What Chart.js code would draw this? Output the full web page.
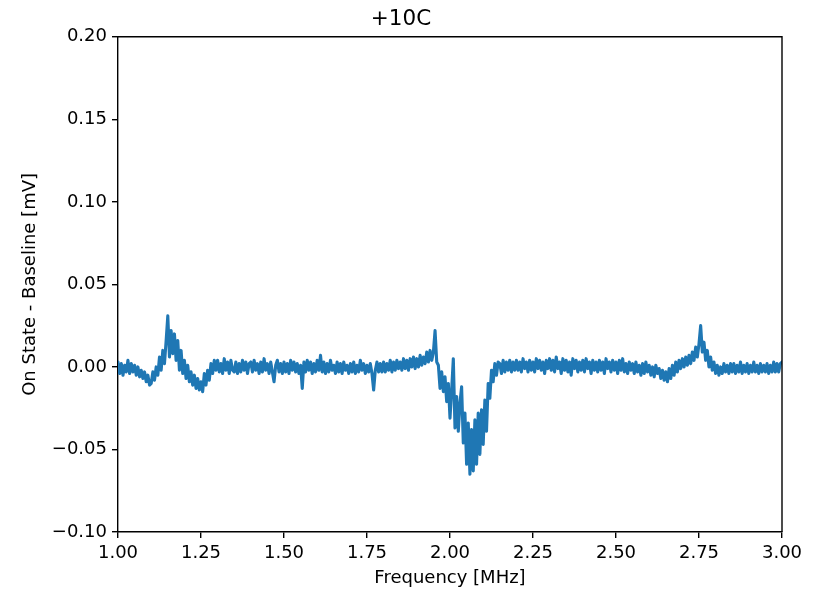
<!DOCTYPE html>
<html>
<head>
<meta charset="utf-8">
<script src="https://cdn.jsdelivr.net/npm/chart.js@4.4.1/dist/chart.umd.min.js"></script>
<style>
  html, body { margin: 0; padding: 0; background: #ffffff; }
  #wrap { width: 825px; height: 593px; position: relative; }
</style>
</head>
<body>
<div id="wrap"><canvas id="c" width="825" height="593"></canvas></div>
<script>
const chartTitle = "+10C";
const xAxisLabel = "Frequency [MHz]";
const yAxisLabel = "On State - Baseline [mV]";
const xTicks = [1.00, 1.25, 1.50, 1.75, 2.00, 2.25, 2.50, 2.75, 3.00];
const yTicks = [-0.10, -0.05, 0.00, 0.05, 0.10, 0.15, 0.20];

const frequencyMHz = [
1.000,1.005,1.010,1.015,1.020,1.025,1.030,1.035,1.040,1.045,
1.050,1.055,1.060,1.065,1.070,1.075,1.080,1.085,1.090,1.095,
1.100,1.105,1.110,1.115,1.120,1.125,1.130,1.135,1.140,1.145,
1.150,1.155,1.160,1.165,1.170,1.175,1.180,1.185,1.190,1.195,
1.200,1.205,1.210,1.215,1.220,1.225,1.230,1.235,1.240,1.245,
1.250,1.255,1.260,1.265,1.270,1.275,1.280,1.285,1.290,1.295,
1.300,1.305,1.310,1.315,1.320,1.325,1.330,1.335,1.340,1.345,
1.350,1.355,1.360,1.365,1.370,1.375,1.380,1.385,1.390,1.395,
1.400,1.405,1.410,1.415,1.420,1.425,1.430,1.435,1.440,1.445,
1.450,1.455,1.460,1.465,1.470,1.475,1.480,1.485,1.490,1.495,
1.500,1.505,1.510,1.515,1.520,1.525,1.530,1.535,1.540,1.545,
1.550,1.555,1.560,1.565,1.570,1.575,1.580,1.585,1.590,1.595,
1.600,1.605,1.610,1.615,1.620,1.625,1.630,1.635,1.640,1.645,
1.650,1.655,1.660,1.665,1.670,1.675,1.680,1.685,1.690,1.695,
1.700,1.705,1.710,1.715,1.720,1.725,1.730,1.735,1.740,1.745,
1.750,1.755,1.760,1.765,1.770,1.775,1.780,1.785,1.790,1.795,
1.800,1.805,1.810,1.815,1.820,1.825,1.830,1.835,1.840,1.845,
1.850,1.855,1.860,1.865,1.870,1.875,1.880,1.885,1.890,1.895,
1.900,1.905,1.910,1.915,1.920,1.925,1.930,1.935,1.940,1.945,
1.950,1.955,1.960,1.965,1.970,1.975,1.980,1.985,1.990,1.995,
2.000,2.005,2.010,2.015,2.020,2.025,2.030,2.035,2.040,2.045,
2.050,2.055,2.060,2.065,2.070,2.075,2.080,2.085,2.090,2.095,
2.100,2.105,2.110,2.115,2.120,2.125,2.130,2.135,2.140,2.145,
2.150,2.155,2.160,2.165,2.170,2.175,2.180,2.185,2.190,2.195,
2.200,2.205,2.210,2.215,2.220,2.225,2.230,2.235,2.240,2.245,
2.250,2.255,2.260,2.265,2.270,2.275,2.280,2.285,2.290,2.295,
2.300,2.305,2.310,2.315,2.320,2.325,2.330,2.335,2.340,2.345,
2.350,2.355,2.360,2.365,2.370,2.375,2.380,2.385,2.390,2.395,
2.400,2.405,2.410,2.415,2.420,2.425,2.430,2.435,2.440,2.445,
2.450,2.455,2.460,2.465,2.470,2.475,2.480,2.485,2.490,2.495,
2.500,2.505,2.510,2.515,2.520,2.525,2.530,2.535,2.540,2.545,
2.550,2.555,2.560,2.565,2.570,2.575,2.580,2.585,2.590,2.595,
2.600,2.605,2.610,2.615,2.620,2.625,2.630,2.635,2.640,2.645,
2.650,2.655,2.660,2.665,2.670,2.675,2.680,2.685,2.690,2.695,
2.700,2.705,2.710,2.715,2.720,2.725,2.730,2.735,2.740,2.745,
2.750,2.755,2.760,2.765,2.770,2.775,2.780,2.785,2.790,2.795,
2.800,2.805,2.810,2.815,2.820,2.825,2.830,2.835,2.840,2.845,
2.850,2.855,2.860,2.865,2.870,2.875,2.880,2.885,2.890,2.895,
2.900,2.905,2.910,2.915,2.920,2.925,2.930,2.935,2.940,2.945,
2.950,2.955,2.960,2.965,2.970,2.975,2.980,2.985,2.990,2.995,
3.000
];

const signalMV = [
 .003,-.004, .002,-.005, .001,-.003, .004,-.004, .002,-.003,
 .001,-.005, .000,-.006,-.002,-.007,-.003,-.009,-.005,-.011,
-.010,-.003,-.008, .000,-.005, .006,-.002, .010, .002, .016,
 .031, .006, .022, .008, .020, .004, .016,-.002, .010,-.004,
 .004,-.007, .001,-.009,-.003,-.011,-.005,-.013,-.007,-.014,
-.009,-.015,-.004,-.011,-.002,-.008, .002,-.004, .004,-.002,
 .004,-.003, .002,-.004, .005,-.002, .003,-.004, .004,-.002,
-.003, .003,-.004, .002,-.003, .004,-.002, .003,-.004, .002,
 .003,-.003, .004,-.002, .002,-.004, .003,-.003, .005,-.002,
 .002,-.004, .003,-.003,-.009, .001, .004,-.003, .002,-.004,
 .003,-.003, .002,-.004, .004,-.002, .003,-.003, .002,-.004,
 .001,-.013, .003,-.003, .004,-.002, .003,-.004, .002,-.003,
 .004,-.002, .007,-.003, .003,-.004, .002,-.003, .004,-.002,
 .001,-.004, .003,-.003, .002,-.004, .003,-.002, .001,-.004,
 .002,-.003, .003,-.004, .001,-.003, .004,-.002, .002,-.004,
 .001,-.003, .002,-.004,-.014,-.002, .003,-.003, .002,-.003,
 .003,-.003, .002,-.002, .004,-.003, .003,-.002, .004,-.001,
 .003,-.002, .005,-.001, .004,-.002, .005, .000, .006,-.001,
 .005, .000, .007, .001, .006, .002, .009, .003, .010, .004,
 .009, .022, .003, .001,-.013,-.003,-.015,-.006,-.021,-.010,
-.031,-.014, .005,-.037,-.018,-.039,-.022,-.012,-.046,-.028,
-.059,-.034,-.065,-.038,-.063,-.032,-.059,-.028,-.053,-.026,
-.047,-.020,-.039,-.010,-.019,-.002,-.009, .002,-.005, .003,
 .002,-.004, .004,-.003, .003,-.002, .004,-.003, .003,-.002,
 .004,-.002, .003,-.003, .005,-.001, .003,-.003, .004,-.002,
 .003,-.003, .005,-.001, .004,-.002, .003,-.004, .004,-.001,
 .005,-.002, .004,-.003, .006,-.001, .003,-.004, .005,-.002,
 .004,-.003, .003,-.005, .005,-.001, .004,-.003, .003,-.002,
 .004,-.003, .005,-.001, .003,-.004, .004,-.002, .003,-.003,
 .004,-.002, .003,-.004, .005,-.001, .003,-.003, .004,-.002,
 .003,-.004, .004,-.002, .005,-.003, .002,-.004, .003,-.002,
 .002,-.004, .003,-.003, .001,-.005, .002,-.004, .003,-.003,
 .001,-.005, .000,-.006, .001,-.004,-.001,-.007,-.002,-.008,
-.003,-.009,-.001,-.007, .001,-.005, .003,-.003, .004,-.001,
 .005, .000, .006, .001, .007, .002, .009, .004, .012, .006,
 .014, .025, .009, .015, .004, .010, .000, .006,-.002, .003,
-.004, .001,-.005, .000,-.004, .002,-.003, .001,-.004, .002,
-.003, .002,-.004, .001,-.003, .003,-.004, .001,-.003, .002,
-.004, .001,-.003, .003,-.003, .001,-.004, .002,-.003, .001,
-.003, .002,-.004, .001,-.003, .003,-.003, .002,-.003, .002,
 .003
];

const lineColor = '#1f77b4';
const fontFamily = "'DejaVu Sans', sans-serif";

function fmt(v) {
  if (Math.abs(v) < 1e-9) v = 0;
  return v.toFixed(2).replace('-', '\u2212');
}

const frameBox = {
  id: 'frameBox',
  afterDatasetsDraw(chart) {
    const a = chart.chartArea, ctx = chart.ctx;
    ctx.save();
    ctx.strokeStyle = '#000';
    ctx.lineWidth = 1.4;
    ctx.beginPath();
    ctx.moveTo(a.left, a.top); ctx.lineTo(a.right, a.top); ctx.lineTo(a.right, a.bottom);
    ctx.stroke();
    ctx.restore();
  }
};

new Chart(document.getElementById('c'), {
  type: 'line',
  data: {
    datasets: [{
      data: frequencyMHz.map((f, i) => ({ x: f, y: signalMV[i] })),
      borderColor: lineColor,
      borderWidth: 3.1,
      pointRadius: 0,
      tension: 0,
      fill: false,
      borderJoinStyle: 'round',
      borderCapStyle: 'round'
    }]
  },
  options: {
    responsive: false,
    animation: false,
    events: [],
    layout: { padding: { left: 20, right: 43, top: 0, bottom: 4 } },
    plugins: {
      legend: { display: false },
      tooltip: { enabled: false },
      title: {
        display: true,
        text: chartTitle,
        color: '#000',
        font: { family: fontFamily, size: 21.5, weight: 'normal' },
        padding: { top: 7, bottom: 4 }
      }
    },
    scales: {
      x: {
        type: 'linear',
        min: 1, max: 3,
        afterBuildTicks(scale) { scale.ticks = xTicks.map(v => ({ value: v })); },
        afterFit(scale) { scale.height = 57; },
        ticks: {
          color: '#000', padding: 5, maxRotation: 0, autoSkip: false,
          font: { family: fontFamily, size: 18 },
          callback: (v) => fmt(v)
        },
        grid: { drawOnChartArea: false, drawTicks: true, tickLength: 6, color: '#000', lineWidth: 1.4 },
        border: { display: true, color: '#000', width: 1.4 },
        title: {
          display: true, text: xAxisLabel, color: '#000',
          font: { family: fontFamily, size: 18 }, padding: 0
        }
      },
      y: {
        type: 'linear',
        min: -0.1, max: 0.2,
        afterBuildTicks(scale) { scale.ticks = yTicks.map(v => ({ value: v })); },
        afterFit(scale) { scale.width = 98; },
        ticks: {
          color: '#000', padding: 5, autoSkip: false,
          font: { family: fontFamily, size: 18 },
          callback: (v) => fmt(v)
        },
        grid: { drawOnChartArea: false, drawTicks: true, tickLength: 6, color: '#000', lineWidth: 1.4 },
        border: { display: true, color: '#000', width: 1.4 },
        title: {
          display: true, text: yAxisLabel, color: '#000',
          font: { family: fontFamily, size: 18 }, padding: 0
        }
      }
    }
  },
  plugins: [frameBox]
});
</script>
</body>
</html>
